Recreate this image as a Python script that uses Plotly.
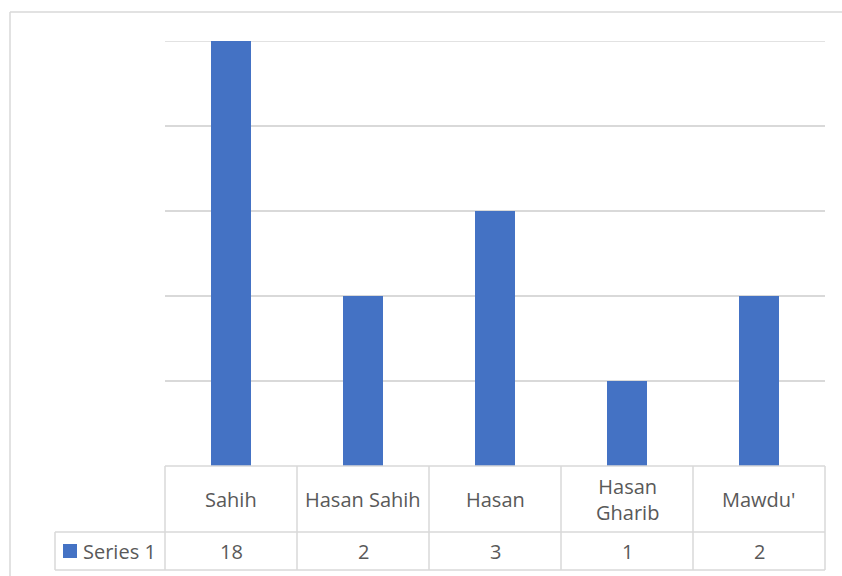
import plotly.graph_objects as go

categories = ["Sahih", "Hasan Sahih", "Hasan", "Hasan<br>Gharib", "Mawdu'"]
series_name = "Series 1"
values = [18, 2, 3, 1, 2]
y_max = 5
y_ticks = [0, 1, 2, 3, 4, 5]

BLUE = "#4472C4"
GRID = "#D9D9D9"
TXT = "#595959"
FONT = "Open Sans"
FS = 20

W, H = 842, 576
L, R, T, B = 165, 17, 41, 110
pw, ph = W - L - R, H - T - B

def px_x(x):
    return (x - L) / pw

def px_y(y):
    return (H - B - y) / ph

fig = go.Figure()
fig.add_trace(go.Bar(
    x=categories, y=values, name=series_name,
    marker=dict(color=BLUE, line=dict(width=0)),
    width=0.31, showlegend=False, hoverinfo="x+y",
))

n = len(categories)
shapes = []
row1 = px_y(532)   # header row bottom
row2 = px_y(570)   # value row bottom
left_cell = px_x(55)
# outer border (left + top)
shapes.append(dict(type="line", xref="paper", yref="paper", x0=px_x(10), x1=px_x(10),
                   y0=px_y(590), y1=px_y(12), line=dict(color=GRID, width=1.5)))
shapes.append(dict(type="line", xref="paper", yref="paper", x0=px_x(10), x1=px_x(860),
                   y0=px_y(12), y1=px_y(12), line=dict(color=GRID, width=1.5)))
# top gridline (plotly drops grid lines at the range end)
shapes.append(dict(type="line", xref="paper", yref="y", x0=0, x1=1,
                   y0=y_max, y1=y_max, layer="below", line=dict(color=GRID, width=1.5)))
# table horizontal lines
for y0, xa in [(0, 0), (row1, left_cell), (row2, left_cell)]:
    shapes.append(dict(type="line", xref="paper", yref="paper", x0=xa, x1=1,
                       y0=y0, y1=y0, line=dict(color=GRID, width=1.5)))
# table vertical lines
for i in range(n + 1):
    shapes.append(dict(type="line", xref="paper", yref="paper", x0=i / n, x1=i / n,
                       y0=0, y1=row2, line=dict(color=GRID, width=1.5)))
shapes.append(dict(type="line", xref="paper", yref="paper", x0=left_cell, x1=left_cell,
                   y0=row1, y1=row2, line=dict(color=GRID, width=1.5)))
# legend key
shapes.append(dict(type="rect", xref="paper", yref="paper", x0=px_x(63), x1=px_x(77),
                   y0=px_y(558), y1=px_y(544), fillcolor=BLUE, line=dict(width=0)))

annotations = []
for c, v in zip(categories, values):
    annotations.append(dict(x=c, xref="x", y=(0 + row1) / 2, yref="paper", text=c,
                            showarrow=False, font=dict(family=FONT, size=FS, color=TXT),
                            xanchor="center", yanchor="middle"))
    annotations.append(dict(x=c, xref="x", y=(row1 + row2) / 2, yref="paper", text=str(v),
                            showarrow=False, font=dict(family=FONT, size=FS, color=TXT),
                            xanchor="center", yanchor="middle"))
annotations.append(dict(x=px_x(81), xref="paper", y=(row1 + row2) / 2, yref="paper",
                        text=series_name, showarrow=False,
                        font=dict(family=FONT, size=FS, color=TXT),
                        xanchor="left", yanchor="middle"))

fig.update_layout(
    width=W, height=H,
    margin=dict(l=L, r=R, t=T, b=B, pad=0),
    paper_bgcolor="white", plot_bgcolor="white",
    bargap=0,
    xaxis=dict(showticklabels=False, showgrid=False, zeroline=False, showline=False,
               ticks="", range=[-0.5, n - 0.5]),
    yaxis=dict(range=[0, y_max], tickvals=y_ticks, showticklabels=False, showgrid=True,
               gridcolor=GRID, gridwidth=1.5, zeroline=False, showline=False, ticks=""),
    shapes=shapes, annotations=annotations,
    font=dict(family=FONT, color=TXT),
)

fig.write_html("out.html", config={"displayModeBar": False},
               post_script="document.body.style.margin='0';")
